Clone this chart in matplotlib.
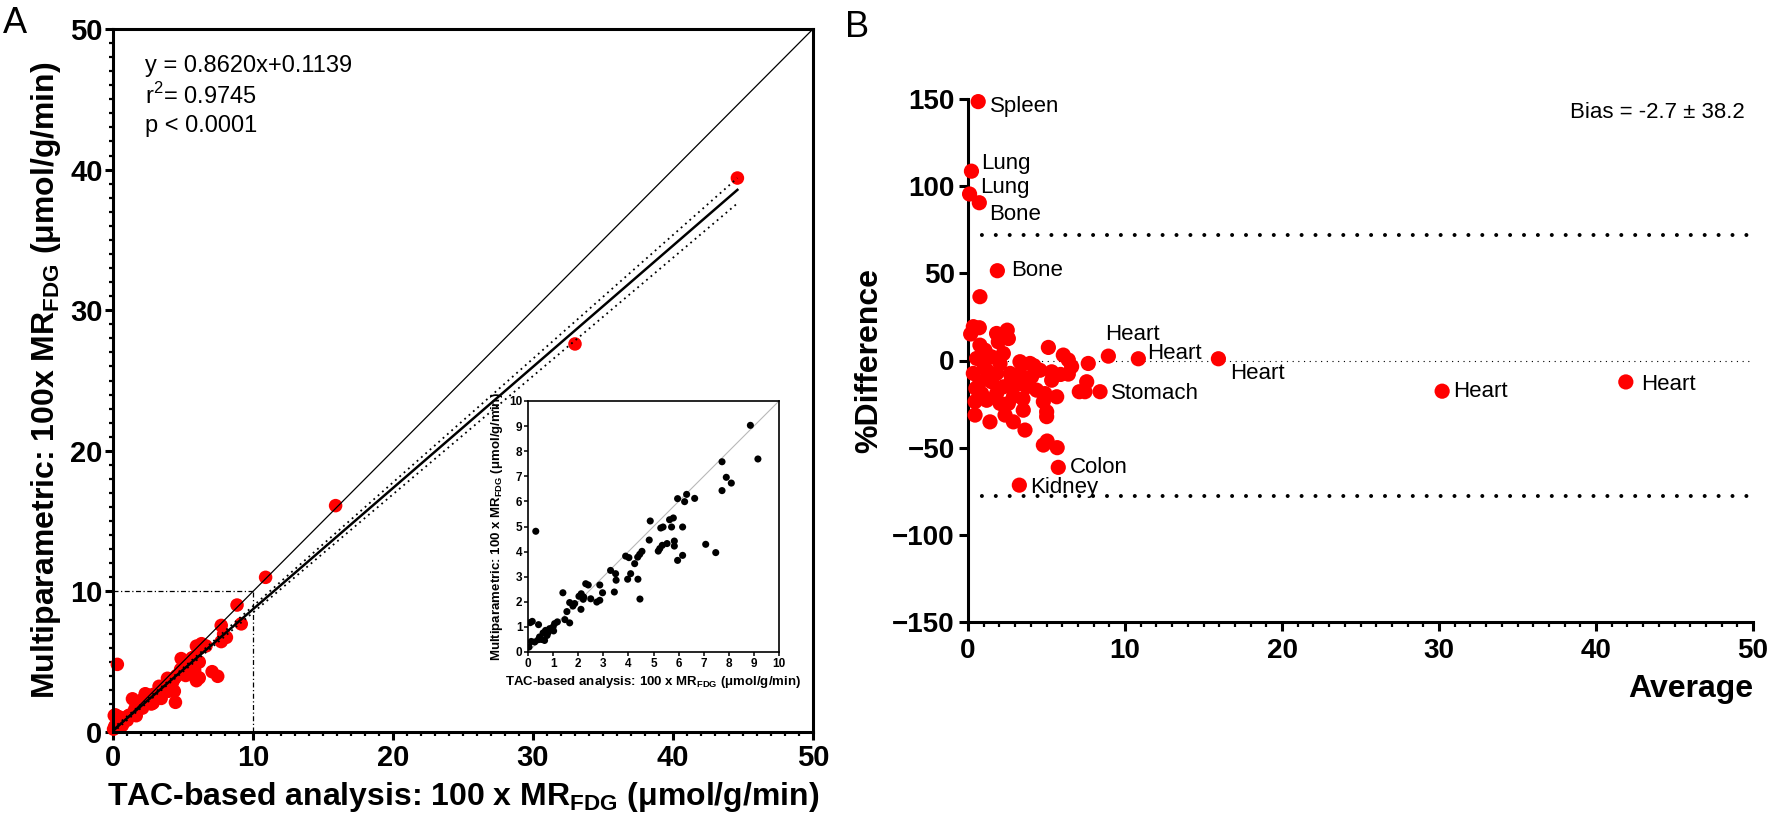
import matplotlib
matplotlib.use('Agg')
import matplotlib.pyplot as plt
import numpy as np
from matplotlib.ticker import MultipleLocator

plt.rcParams['font.family'] = ['Liberation Sans', 'DejaVu Sans']
plt.rcParams['mathtext.fontset'] = 'custom'
plt.rcParams['mathtext.rm'] = 'Liberation Sans'
plt.rcParams['mathtext.bf'] = 'Liberation Sans:bold'

# ---------------- Panel A data (TAC-based vs multiparametric, 100 x MR_FDG) ----------------
tac_x = [8.86, 9.16, 7.73, 7.90, 7.73, 8.10, 7.08, 7.48, 6.32, 6.64, 5.96, 6.24, 6.16, 6.16,
         5.96, 5.79, 5.64, 5.72, 5.83, 5.83, 5.38, 5.29, 5.54, 5.35, 5.25, 5.19, 4.87, 4.83,
         4.54, 4.45, 4.37, 4.25, 4.02, 3.89, 4.09, 3.97, 4.38, 4.46, 3.49, 3.51, 3.29, 3.44,
         2.97, 2.86, 2.86, 2.74, 2.30, 2.40, 2.22, 2.12, 2.03, 2.50, 2.11, 1.86, 1.66, 1.79,
         1.39, 1.55, 1.47, 1.66, 1.06, 1.17, 1.00, 0.86, 1.02, 0.70, 0.60, 0.76, 0.46, 0.41,
         0.27, 0.13, 0.04, 0.31, 0.17, 0.09, 0.42, 0.54, 0.66, 0.80, 2.20,
         10.9, 15.9, 33.0, 44.6]
multi_y = [9.03, 7.69, 7.58, 6.96, 6.43, 6.73, 4.29, 3.96, 6.28, 6.12, 6.11, 5.99, 4.98, 3.85,
           3.65, 5.34, 5.27, 4.98, 4.42, 4.22, 4.98, 4.94, 4.32, 4.25, 4.12, 4.02, 5.22, 4.46,
           4.01, 3.89, 3.78, 3.52, 3.76, 3.82, 3.12, 2.90, 2.90, 2.11, 3.12, 2.86, 3.25, 2.39,
           2.36, 2.67, 2.06, 1.99, 2.72, 2.67, 2.19, 2.32, 2.22, 2.12, 1.70, 1.93, 1.97, 1.83,
           2.36, 1.61, 1.29, 1.16, 1.13, 1.20, 1.00, 0.93, 0.84, 0.86, 0.76, 0.66, 0.60, 0.49,
           0.40, 0.42, 0.20, 4.81, 1.22, 1.17, 1.09, 0.50, 0.46, 0.77, 2.10,
           11.0, 16.1, 27.6, 39.4]

slope = 0.8620
intercept = 0.1139
fit_x = [0.0, 44.6]
ci_x = [0.0, 4.0, 44.6]
ci_upper = [0.26, 3.67, 39.4]
ci_lower = [-0.03, 3.45, 37.6]

eq_lines = ["y = 0.8620x+0.1139", r"r$^\mathregular{2}$= 0.9745", "p < 0.0001"]

# ---------------- Panel B data (Bland-Altman) ----------------
ba_avg = [0.65, 0.22, 0.10, 0.72, 1.87, 8.94, 10.85, 15.95, 30.2, 41.9, 8.41, 5.75, 3.27,
          0.76, 0.34, 0.72, 0.17, 1.82, 2.50, 2.57, 1.93, 0.76, 1.08, 2.25, 1.50, 0.55, 5.12,
          3.31, 3.95, 6.07, 6.39, 7.66, 6.39, 0.34, 7.56, 7.09, 7.45, 5.65, 4.90, 5.33, 5.33,
          4.58, 5.01, 5.01, 4.80, 3.63, 3.52, 2.89, 2.36, 1.40, 0.45, 0.45, 0.87, 1.19, 1.82,
          2.25, 2.89, 3.31, 3.74, 4.05, 3.31, 2.68, 1.82, 1.19, 2.04, 2.76, 4.37, 2.57, 2.04,
          1.50, 0.76, 4.80, 5.04, 5.68, 1.00, 0.50, 2.90, 3.50, 4.20, 5.90, 6.60]
ba_diff = [148.5, 108.6, 95.5, 90.5, 51.5, 2.5, 1.0, 1.0, -17.6, -12.3, -17.9, -61.3, -71.5,
           36.6, 19.4, 18.8, 15.2, 15.5, 17.4, 12.6, 10.7, 8.8, 5.9, 4.0, 2.1, 1.2, 7.5,
           -0.7, -1.7, 3.1, 0.3, -1.7, -7.8, -7.4, -12.2, -17.9, -17.9, -20.8, -19.0, -11.3, -6.5,
           -5.6, -29.4, -32.2, -23.6, -39.9, -28.5, -35.2, -31.3, -35.2, -31.3, -23.6, -19.0, -22.8, -19.0,
           -15.1, -15.1, -13.2, -15.1, -9.3, -7.4, -7.4, -7.4, -5.6, -1.7, -11.3, -17.0, -24.6, -24.6,
           -12.2, -12.2, -48.5, -46.2, -50.0, -2.0, -16.0, -20.5, -22.0, -3.0, -8.0, -3.5]
ba_labels = ["Spleen", "Lung", "Lung", "Bone", "Bone", "Heart", "Heart", "Heart", "Heart",
             "Heart", "Stomach", "Colon", "Kidney"]
bias_text = "Bias = -2.7 \u00b1 38.2"
loa_upper = 72.2
loa_lower = -77.6
ref_zero = 0.0

# label offsets (pixels) for the annotated points
label_offsets = [(12, -5), (10, 8), (11, 7), (10, -12), (14, 0), (-3, 22), (9, 5), (12, -15),
                 (11, 0), (15, -3), (11, -2), (12, 0), (11, -2)]

W, H = 1770, 819
fig = plt.figure(figsize=(W / 100, H / 100), dpi=100)
RED = '#ff0000'
SUB = r'$_\mathregular{FDG}$'


def bold_ticks(ax):
    for lbl in ax.get_xticklabels() + ax.get_yticklabels():
        lbl.set_fontweight('bold')


# ---------------- Panel A ----------------
axA = fig.add_axes([113 / W, 1 - 732 / H, 700 / W, 703 / H])
axA.scatter(tac_x, multi_y, s=95, color=RED, edgecolors='none', zorder=2, clip_on=False)
axA.plot([0, 50], [0, 50], color='black', lw=0.9, zorder=3)
fx = np.array(fit_x)
axA.plot(fx, slope * fx + intercept, color='black', lw=1.8, zorder=4)
axA.plot(ci_x, ci_upper, color='black', lw=1.3, ls=(0, (1, 2.2)), zorder=4)
axA.plot(ci_x, ci_lower, color='black', lw=1.3, ls=(0, (1, 2.2)), zorder=4)
axA.plot([0, 10], [10, 10], color='black', lw=0.9, ls=(0, (4, 2, 1, 2)), zorder=1)
axA.plot([10, 10], [0, 10], color='black', lw=0.9, ls=(0, (4, 2, 1, 2)), zorder=1)
axA.set_xlim(0, 50)
axA.set_ylim(0, 50)
for sp in axA.spines.values():
    sp.set_linewidth(2.2)
axA.xaxis.set_major_locator(MultipleLocator(10))
axA.yaxis.set_major_locator(MultipleLocator(10))
axA.xaxis.set_minor_locator(MultipleLocator(1))
axA.yaxis.set_minor_locator(MultipleLocator(1))
axA.tick_params(which='major', length=5.5, width=2.2, labelsize=21, direction='out')
axA.tick_params(which='minor', length=3.2, width=1.6, direction='out')
axA.tick_params(axis='x', which='major', pad=3)
axA.tick_params(axis='y', which='major', pad=2)
bold_ticks(axA)
axA.set_xlabel('TAC-based analysis: 100 x MR' + SUB + ' (\u03bcmol/g/min)',
               fontsize=23, fontweight='bold', labelpad=6)
axA.set_ylabel('Multiparametric: 100x MR' + SUB + ' (\u03bcmol/g/min)',
               fontsize=23, fontweight='bold', labelpad=5)
for i, line in enumerate(eq_lines):
    axA.text(2.3, 47.4 - 2.15 * i, line, fontsize=17, va='center', ha='left')

# inset
axI = fig.add_axes([528 / W, 1 - 652 / H, 251 / W, 251 / H])
axI.scatter(tac_x, multi_y, s=26, color='black', edgecolors='none', zorder=3)
axI.plot([0, 10], [0, 10], color='#b8b8b8', lw=0.8, zorder=2)
axI.set_xlim(0, 10)
axI.set_ylim(0, 10)
for sp in axI.spines.values():
    sp.set_linewidth(1.2)
axI.xaxis.set_major_locator(MultipleLocator(1))
axI.yaxis.set_major_locator(MultipleLocator(1))
axI.tick_params(length=3, width=1.1, labelsize=8.5, pad=1)
bold_ticks(axI)
axI.set_xlabel('TAC-based analysis: 100 x MR' + SUB + ' (\u03bcmol/g/min)',
               fontsize=9.5, fontweight='bold', labelpad=3)
axI.set_ylabel('Multiparametric: 100 x MR' + SUB + ' (\u03bcmol/g/min)',
               fontsize=9.5, fontweight='bold', labelpad=3)

# ---------------- Panel B ----------------
axB = fig.add_axes([968 / W, 1 - 622 / H, 785 / W, 523 / H])
axB.scatter(ba_avg, ba_diff, s=120, color=RED, edgecolors='none', zorder=3, clip_on=False)
axB.plot([0, 50], [loa_upper, loa_upper], color='black', lw=2.9, ls=(0, (0.001, 3.45)),
         dash_capstyle='round', zorder=2)
axB.plot([0, 50], [loa_lower, loa_lower], color='black', lw=2.9, ls=(0, (0.001, 3.45)),
         dash_capstyle='round', zorder=2)
axB.plot([0, 50], [ref_zero, ref_zero], color='black', lw=1.0, ls=(0, (0.001, 4.1)),
         dash_capstyle='round', zorder=2)
for i, name in enumerate(ba_labels):
    dx, dy = label_offsets[i]
    axB.annotate(name, (ba_avg[i], ba_diff[i]), xytext=(dx, dy), textcoords='offset pixels',
                 fontsize=16, va='center', ha='left', zorder=4)
axB.set_xlim(0, 50)
axB.set_ylim(-150, 150)
axB.spines['top'].set_visible(False)
axB.spines['right'].set_visible(False)
axB.spines['left'].set_linewidth(2.2)
axB.spines['bottom'].set_linewidth(2.2)
axB.xaxis.set_major_locator(MultipleLocator(10))
axB.xaxis.set_minor_locator(MultipleLocator(1))
axB.yaxis.set_major_locator(MultipleLocator(50))
axB.tick_params(which='major', length=6.5, width=2.2, labelsize=20, direction='out')
axB.tick_params(which='minor', length=3.8, width=1.6, direction='out')
axB.tick_params(axis='x', which='major', pad=5)
axB.tick_params(axis='y', which='major', pad=3)
bold_ticks(axB)
axB.set_xlabel('Average', fontsize=23, fontweight='bold', loc='right', labelpad=7)
axB.set_ylabel('%Difference', fontsize=23, fontweight='bold', labelpad=6)
axB.text(0.99, 0.975, bias_text, transform=axB.transAxes, fontsize=16, ha='right', va='center')

fig.text(3 / W, 1 - 6 / H, 'A', fontsize=26, va='top', ha='left')
fig.text(845 / W, 1 - 10 / H, 'B', fontsize=26, va='top', ha='left')

fig.savefig('out.png', dpi=100)
